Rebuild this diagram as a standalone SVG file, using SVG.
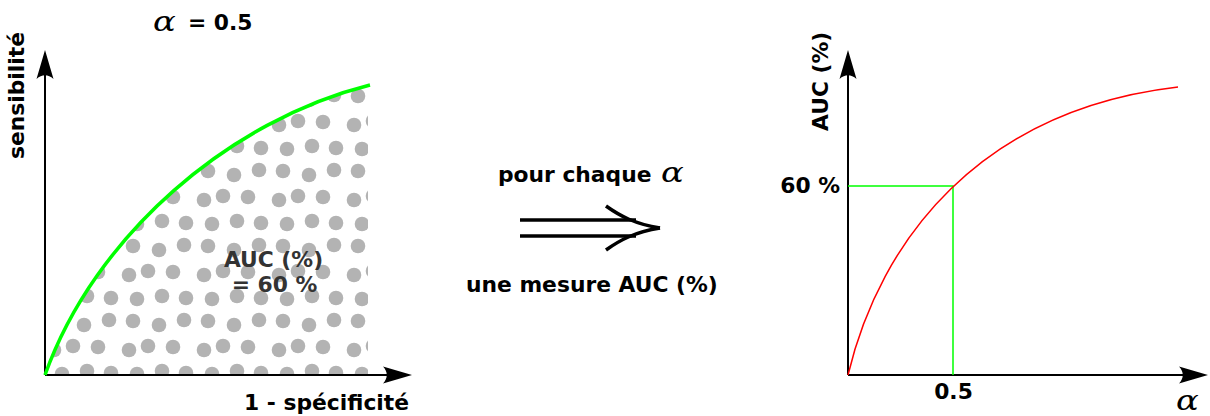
<svg xmlns="http://www.w3.org/2000/svg" xmlns:xlink="http://www.w3.org/1999/xlink" width="1210" height="416" viewBox="0 0 1210 416">
  <style>
    .lbl { font-family: "DejaVu Sans", "Liberation Sans", sans-serif; font-weight: bold; font-size: 21.8px; fill: #000; }
    .inner { fill: #333; }
    .greek { font-family: "DejaVu Serif", "Liberation Serif", serif; font-style: italic; font-size: 27px; fill: #000; }
    .axis { stroke: #000; stroke-width: 2; fill: none; }
    .dot { fill: #b3b3b3; }
  </style>
  <defs>
    <path id="ah" d="M0,0 L-29,-8.5 C-24,-3 -24,3 -29,8.5 Z" fill="#000"/>
    <pattern id="dots" x="45" y="85" width="75" height="75" patternUnits="userSpaceOnUse">
      <circle class="dot" cx="13" cy="11" r="7.3"/>
      <circle class="dot" cx="39" cy="15" r="7.3"/>
      <circle class="dot" cx="64" cy="10" r="7.3"/>
      <circle class="dot" cx="9" cy="40" r="7.3"/>
      <circle class="dot" cx="28" cy="36" r="7.3"/>
      <circle class="dot" cx="53" cy="37" r="7.3"/>
      <circle class="dot" cx="17" cy="64" r="7.3"/>
      <circle class="dot" cx="42" cy="61" r="7.3"/>
      <circle class="dot" cx="66" cy="63" r="7.3"/>
    </pattern>
    <clipPath id="auc">
      <path d="M45,375 C95,235 230,120 370,85 L368,85 L368,375 Z"/>
    </clipPath>
  </defs>

  <g id="left-chart">
    <rect x="45" y="80" width="325" height="295" fill="url(#dots)" clip-path="url(#auc)"/>
    <path class="axis" d="M45,375 V55"/>
    <path class="axis" d="M45,375 H407"/>
    <use xlink:href="#ah" transform="translate(45,50) rotate(-90)"/>
    <use xlink:href="#ah" transform="translate(412,375)"/>
    <path d="M45,375 C95,235 230,120 370,85" fill="none" stroke="#00ff00" stroke-width="3.5"/>
    <text class="greek" transform="translate(153,31) scale(1.25,1)">α</text>
    <text class="lbl" x="188" y="30">= 0.5</text>
    <text class="lbl" transform="translate(24,159) rotate(-90)">sensibilité</text>
    <text class="lbl" x="409" y="410" text-anchor="end">1 - spécificité</text>
    <text class="lbl inner" x="273.5" y="267" text-anchor="middle">AUC (%)</text>
    <text class="lbl inner" x="274.5" y="292" text-anchor="middle">= 60 %</text>
  </g>

  <g id="connectors">
    <g id="double-arrow" fill="none" stroke="#000" stroke-width="3.5">
      <path d="M520,220 H636"/>
      <path d="M520,236 H636"/>
      <path d="M606,206 C620,216 635,224 660,228"/>
      <path d="M606,250 C620,240 635,232 660,228"/>
    </g>
  </g>

  <g id="middle-labels">
    <text class="lbl" x="498" y="182">pour chaque</text>
    <text class="greek" transform="translate(661,182) scale(1.25,1)">α</text>
    <text class="lbl" x="466" y="292">une mesure AUC (%)</text>
  </g>

  <g id="right-chart">
    <path class="axis" d="M848,375 V55"/>
    <path class="axis" d="M848,375 H1203"/>
    <use xlink:href="#ah" transform="translate(848,50) rotate(-90)"/>
    <use xlink:href="#ah" transform="translate(1208,375)"/>
    <path d="M848,186 H953 V375" fill="none" stroke="#00ff00" stroke-width="1.5"/>
    <path d="M848,375 C880,240 980,110 1178,87" fill="none" stroke="#ff0000" stroke-width="1.5"/>
    <text class="lbl" transform="translate(828,131) rotate(-90)">AUC (%)</text>
    <text class="lbl" x="840" y="193" text-anchor="end">60 %</text>
    <text class="lbl" x="953.5" y="399" text-anchor="middle">0.5</text>
    <text class="greek" transform="translate(1176,410) scale(1.25,1)">α</text>
  </g>
</svg>
